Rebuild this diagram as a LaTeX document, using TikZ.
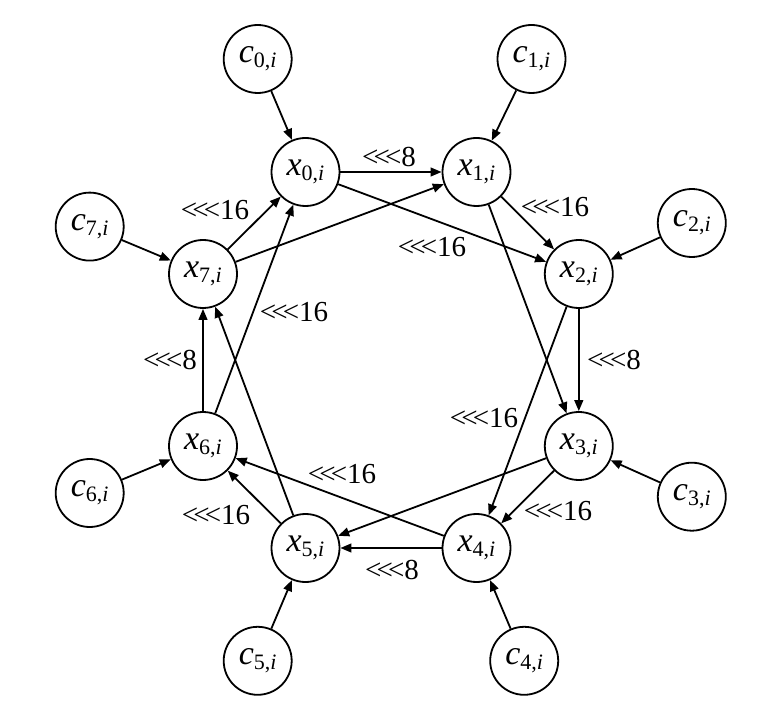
\documentclass[tikz,border=0pt]{standalone}
\usepackage{fontspec}
\setmainfont{Liberation Serif}
\usetikzlibrary{arrows.meta}

% shift operator and node text
\newcommand{\rot}{<\kern-0.17em<\kern-0.17em<}
\newcommand{\subi}[1]{\raisebox{-0.32ex}{\fontsize{11}{12}\selectfont #1,\textit{i}}}
\newcommand{\xn}[1]{\textit{x}\subi{#1}}
\newcommand{\cn}[1]{\textit{c}\subi{#1}}

\tikzset{
    state/.style={draw, circle, line width=0.9pt, minimum size=34pt, inner sep=0pt, font=\fontsize{17}{18}\selectfont},
    shiftlabel/.style={inner sep=0pt, font=\fontsize{14.5}{16}\selectfont},
    wire/.style={line width=0.9pt, -{Triangle[length=5.5pt,width=4.4pt]}}
}

\begin{document}
\begin{tikzpicture}[x=0.5pt, y=-0.5pt]

    % page frame
    \useasboundingbox (0,0) rectangle (782,727);

    % inner ring of x nodes
    \node[state] (x0) at (305.5,172) {\xn{0}};
    \node[state] (x1) at (476.5,172) {\xn{1}};
    \node[state] (x2) at (578.8,274) {\xn{2}};
    \node[state] (x3) at (578.8,446) {\xn{3}};
    \node[state] (x4) at (476.5,548) {\xn{4}};
    \node[state] (x5) at (305.5,548) {\xn{5}};
    \node[state] (x6) at (203,446) {\xn{6}};
    \node[state] (x7) at (203,274) {\xn{7}};

    % outer c nodes
    \node[state] (c0) at (257.7,59) {\cn{0}};
    \node[state] (c1) at (531.5,59) {\cn{1}};
    \node[state] (c2) at (691.8,223) {\cn{2}};
    \node[state] (c3) at (691.8,496.7) {\cn{3}};
    \node[state] (c4) at (524.2,660.8) {\cn{4}};
    \node[state] (c5) at (257.7,660.8) {\cn{5}};
    \node[state] (c6) at (89.7,493) {\cn{6}};
    \node[state] (c7) at (89.7,226.6) {\cn{7}};

    % inputs from c nodes
    \draw[wire] (c0) -- (x0);
    \draw[wire] (c1) -- (x1);
    \draw[wire] (c2) -- (x2);
    \draw[wire] (c3) -- (x3);
    \draw[wire] (c4) -- (x4);
    \draw[wire] (c5) -- (x5);
    \draw[wire] (c6) -- (x6);
    \draw[wire] (c7) -- (x7);

    % ring connections
    \draw[wire] (x0) -- (x1);
    \draw[wire] (x0) -- (x2);
    \draw[wire] (x1) -- (x2);
    \draw[wire] (x1) -- (x3);
    \draw[wire] (x2) -- (x3);
    \draw[wire] (x2) -- (x4);
    \draw[wire] (x3) -- (x4);
    \draw[wire] (x3) -- (x5);
    \draw[wire] (x4) -- (x5);
    \draw[wire] (x4) -- (x6);
    \draw[wire] (x5) -- (x6);
    \draw[wire] (x5) -- (x7);
    \draw[wire] (x6) -- (x7);
    \draw[wire] (x6) -- (x0);
    \draw[wire] (x7) -- (x0);
    \draw[wire] (x7) -- (x1);

    % rotation amounts
    \node[shiftlabel] (r01) at (389,157) {\rot8};
    \node[shiftlabel] (r12) at (555,207) {\rot16};
    \node[shiftlabel] (r02) at (432,247) {\rot16};
    \node[shiftlabel] (r23) at (614,360) {\rot8};
    \node[shiftlabel] (r24) at (484,418) {\rot16};
    \node[shiftlabel] (r34) at (558,511) {\rot16};
    \node[shiftlabel] (r45) at (392,570) {\rot8};
    \node[shiftlabel] (r46) at (342,474) {\rot16};
    \node[shiftlabel] (r56) at (216,515) {\rot16};
    \node[shiftlabel] (r67) at (170,360) {\rot8};
    \node[shiftlabel] (r60) at (294,312) {\rot16};
    \node[shiftlabel] (r70) at (215,210) {\rot16};

\end{tikzpicture}
\end{document}
